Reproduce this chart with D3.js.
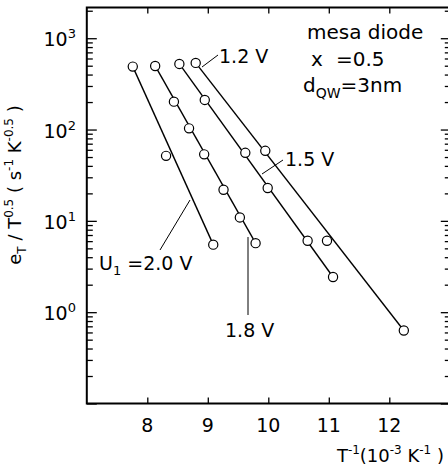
<!DOCTYPE html>
<html>
<head>
<meta charset="utf-8">
<script src="https://cdn.jsdelivr.net/npm/d3@7"></script>
<style>
  body { margin: 0; background: #fff; }
  svg { display: block; font-family: "DejaVu Sans", sans-serif; }
</style>
</head>
<body>
<div id="chart"></div>
<script>
// values: inverse temperature (10^-3 K^-1) and e_T / T^0.5
var invT_12 = [8.80, 9.95, 10.97, 12.24];
var eT_12   = [537, 58.5, 6.05, 0.63];
var invT_15 = [8.53, 8.95, 9.62, 9.99, 10.65, 11.07];
var eT_15   = [523, 211, 55.6, 22.9, 6.05, 2.43];
var invT_18 = [8.13, 8.44, 8.69, 8.94, 9.26, 9.53, 9.79];
var eT_18   = [497, 202, 103, 53.5, 21.9, 10.9, 5.7];
var invT_20 = [7.76, 8.31, 9.09];
var eT_20   = [489, 51.5, 5.49];

var xTicks = [8, 9, 10, 11, 12];
var yMajor = [0.1, 1, 10, 100, 1000];
var yLabels = [1, 10, 100, 1000];

var width = 448, height = 466;
var svg = d3.select("#chart").append("svg")
    .attr("width", width).attr("height", height);

var x = d3.scaleLinear().domain([7, 13]).range([86.8, 449.8]);
var y = d3.scaleLog().domain([0.1, 2170]).range([403.5, 7.5]);

// minor ticks of the log axis (2..9 in every decade)
var yMinor = y.ticks().filter(function(v) { return yMajor.indexOf(v) < 0; });

function styleAxis(g) {
    g.select(".domain").remove();
    g.selectAll(".tick line").attr("stroke", "#000").attr("stroke-width", 1.3);
}

// tick marks, all pointing inside the frame
svg.append("g").attr("transform", "translate(0,403.5)")
    .call(d3.axisBottom(x).tickValues(xTicks).tickSize(-6).tickFormat(""))
    .call(styleAxis);
svg.append("g").attr("transform", "translate(0,7.5)")
    .call(d3.axisTop(x).tickValues(xTicks).tickSize(-6).tickFormat(""))
    .call(styleAxis);
svg.append("g").attr("transform", "translate(86.8,0)")
    .call(d3.axisLeft(y).tickValues(yMajor).tickSize(-10).tickFormat(""))
    .call(styleAxis);
svg.append("g").attr("transform", "translate(86.8,0)")
    .call(d3.axisLeft(y).tickValues(yMinor).tickSize(-6).tickFormat(""))
    .call(styleAxis);
svg.append("g").attr("transform", "translate(449.8,0)")
    .call(d3.axisRight(y).tickValues(yMajor).tickSize(-9).tickFormat(""))
    .call(styleAxis);
svg.append("g").attr("transform", "translate(449.8,0)")
    .call(d3.axisRight(y).tickValues(yMinor).tickSize(-5).tickFormat(""))
    .call(styleAxis);

// frame
svg.append("path")
    .attr("d", "M449.8,7.5H86.8V403.5H449.8")
    .attr("fill", "none").attr("stroke", "#000").attr("stroke-width", 2);

// tick labels
svg.selectAll(".xlab").data(xTicks).enter().append("text")
    .attr("x", function(d) { return x(d); })
    .attr("y", 432)
    .attr("text-anchor", "middle")
    .attr("font-size", 19)
    .text(function(d) { return d; });

var yl = svg.selectAll(".ylab").data(yLabels).enter().append("text")
    .attr("x", 76)
    .attr("y", function(d) { return y(d) + 8; })
    .attr("text-anchor", "end")
    .attr("font-size", 19);
yl.append("tspan").text("10");
yl.append("tspan").attr("dy", -8).attr("font-size", 13)
    .text(function(d) { return Math.round(Math.log10(d)); });

// series: fit line from first to last point, open circles on top
var series = [
    { xs: invT_12, ys: eT_12 },
    { xs: invT_15, ys: eT_15 },
    { xs: invT_18, ys: eT_18 },
    { xs: invT_20, ys: eT_20 }
];

series.forEach(function(s) {
    var n = s.xs.length;
    svg.append("line")
        .attr("x1", x(s.xs[0])).attr("y1", y(s.ys[0]))
        .attr("x2", x(s.xs[n - 1])).attr("y2", y(s.ys[n - 1]))
        .attr("stroke", "#000").attr("stroke-width", 1.4);
});

series.forEach(function(s) {
    svg.append("g").selectAll("circle")
        .data(d3.range(s.xs.length))
        .enter().append("circle")
            .attr("cx", function(i) { return x(s.xs[i]); })
            .attr("cy", function(i) { return y(s.ys[i]); })
            .attr("r", 4.6)
            .attr("fill", "#fff")
            .attr("stroke", "#000")
            .attr("stroke-width", 1.2);
});

// leader lines for the voltage labels
var leaders = [
    [202, 67, 218, 55],
    [262, 174, 283, 160],
    [190, 200, 160, 250],
    [248, 237, 248, 315]
];
svg.selectAll(".leader").data(leaders).enter().append("line")
    .attr("x1", function(d) { return d[0]; })
    .attr("y1", function(d) { return d[1]; })
    .attr("x2", function(d) { return d[2]; })
    .attr("y2", function(d) { return d[3]; })
    .attr("stroke", "#000").attr("stroke-width", 1);

function label(px, py, str) {
    return svg.append("text").attr("x", px).attr("y", py)
        .attr("font-size", 19).text(str);
}
label(219, 63, "1.2 V");
label(285, 166, "1.5 V");
label(225, 337, "1.8 V");

var u = svg.append("text").attr("x", 99).attr("y", 270).attr("font-size", 19);
u.append("tspan").text("U");
u.append("tspan").attr("dy", 5).attr("font-size", 13).text("1");
u.append("tspan").attr("dy", -5).text(" =2.0 V");

// parameter block
label(307, 39, "mesa diode").attr("font-size", 20);
label(311, 66, "x").attr("font-size", 20);
label(336, 66, "=0.5").attr("font-size", 20);
var dq = svg.append("text").attr("x", 303).attr("y", 92).attr("font-size", 20);
dq.append("tspan").text("d");
dq.append("tspan").attr("dy", 6).attr("font-size", 14).text("QW");
dq.append("tspan").attr("dy", -6).text("=3nm");

// axis titles
var yt = svg.append("text")
    .attr("transform", "translate(21,185) rotate(-90)")
    .attr("text-anchor", "middle")
    .attr("font-size", 18);
yt.append("tspan").text("e");
yt.append("tspan").attr("dy", 5).attr("font-size", 12).text("T");
yt.append("tspan").attr("dy", -5).text(" / T");
yt.append("tspan").attr("dy", -8).attr("font-size", 12).text("0.5");
yt.append("tspan").attr("dy", 8).text(" ( s");
yt.append("tspan").attr("dy", -8).attr("font-size", 12).text("-1");
yt.append("tspan").attr("dy", 8).text(" K");
yt.append("tspan").attr("dy", -8).attr("font-size", 12).text("-0.5");
yt.append("tspan").attr("dy", 8).text(" )");

var xt = svg.append("text")
    .attr("x", 444).attr("y", 462)
    .attr("text-anchor", "end")
    .attr("font-size", 18);
xt.append("tspan").text("T");
xt.append("tspan").attr("dy", -8).attr("font-size", 12).text("-1");
xt.append("tspan").attr("dy", 8).text("(10");
xt.append("tspan").attr("dy", -8).attr("font-size", 12).text("-3");
xt.append("tspan").attr("dy", 8).text(" K");
xt.append("tspan").attr("dy", -8).attr("font-size", 12).text("-1");
xt.append("tspan").attr("dy", 8).text(" )");
</script>
</body>
</html>
